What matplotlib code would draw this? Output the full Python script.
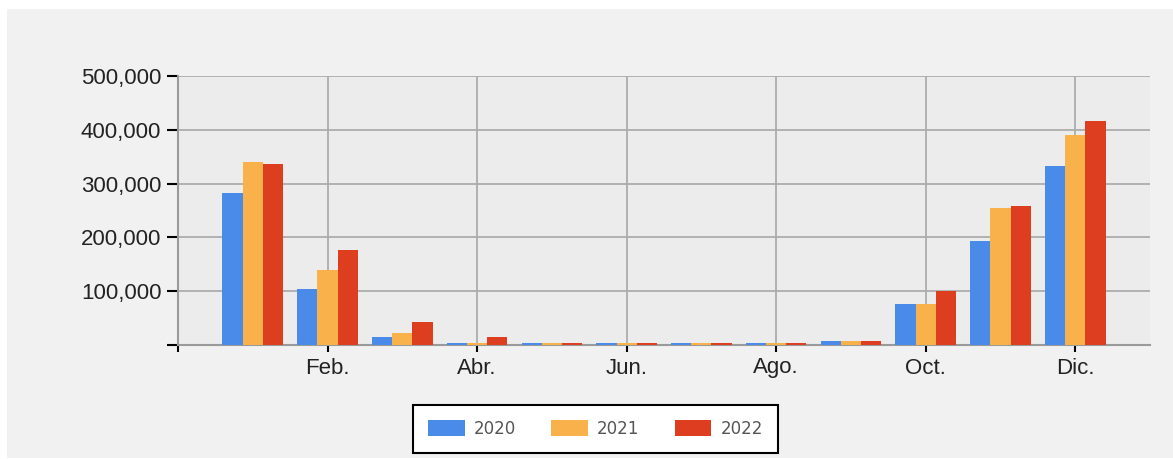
import numpy as np
import matplotlib
matplotlib.use("Agg")
import matplotlib.pyplot as plt
from matplotlib.patches import Rectangle

# monthly values
months = np.arange(1, 13)
tick_pos = [0, 2, 4, 6, 8, 10, 12]
tick_labels = ["", "Feb.", "Abr.", "Jun.", "Ago.", "Oct.", "Dic."]
years = ["2020", "2021", "2022"]
v2020 = [283000, 104000, 15000, 4000, 3000, 3000, 3000, 4000, 8000, 77000, 193000, 333000]
v2021 = [340000, 139000, 22000, 4000, 3000, 3000, 3000, 3000, 8000, 77000, 255000, 391000]
v2022 = [337000, 177000, 43000, 15000, 3000, 3000, 3000, 4000, 8000, 100000, 258000, 416000]
colors = ["#4a8bea", "#f9b24b", "#dd3e1f"]
y_ticks = [0, 100000, 200000, 300000, 400000, 500000]

W, H = 1173, 459
fig = plt.figure(figsize=(W / 100, H / 100), dpi=100, facecolor="white")
plt.rcParams["font.family"] = ["Liberation Sans", "DejaVu Sans"]

# light gray chart panel
fig.patches.append(Rectangle((7 / W, 1 / H), 1 - 7 / W, 449 / H,
                             transform=fig.transFigure, facecolor="#f1f1f1",
                             edgecolor="none", zorder=-10))

ax = fig.add_axes([178 / W, 1 - 345 / H, (1150 - 178) / W, (345 - 76) / H])
ax.set_facecolor("#ececec")

bw = 0.27
for i, (vals, c, lab) in enumerate(zip([v2020, v2021, v2022], colors, years)):
    ax.bar(months + (i - 1) * bw, vals, width=bw, color=c, label=lab,
           edgecolor="none", zorder=3)

ax.set_xlim(0, 13)
ax.set_ylim(0, 500000)
ax.set_xticks(tick_pos)
ax.set_xticklabels(tick_labels)
ax.set_yticks(y_ticks)
ax.set_yticklabels(["" if v == 0 else f"{v:,}" for v in y_ticks])

ax.grid(True, color="#acacac", linewidth=1.3, zorder=1)
ax.set_axisbelow(True)
for s in ["top", "right"]:
    ax.spines[s].set_visible(False)
for s in ["left", "bottom"]:
    ax.spines[s].set_color("#9a9a9a")
    ax.spines[s].set_linewidth(1.5)

ax.tick_params(axis="y", length=8, width=1.5, color="black", pad=4,
               labelsize=16, labelcolor="#222222")
ax.tick_params(axis="x", length=5, width=1.5, color="black", pad=4,
               labelsize=16, labelcolor="#222222")

leg = fig.legend(loc="center", bbox_to_anchor=(595.5 / W, 1 - 428.5 / H),
                 ncol=3, fontsize=12, frameon=True, fancybox=False,
                 handlelength=2.2, handleheight=1.1, handletextpad=0.55,
                 columnspacing=2.1, borderpad=0.9, borderaxespad=0)
leg.get_frame().set_edgecolor("black")
leg.get_frame().set_linewidth(1.5)
leg.get_frame().set_facecolor("white")
leg.get_frame().set_alpha(1)
for t in leg.get_texts():
    t.set_color("#555555")
    t.set_family(["DejaVu Sans"])

fig.savefig("out.png", dpi=100, facecolor="white")
